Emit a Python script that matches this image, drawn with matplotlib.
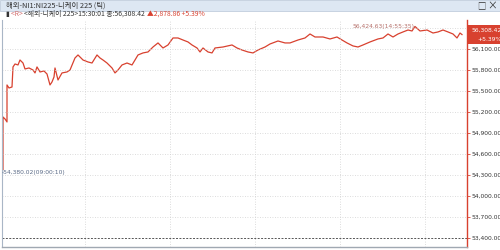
import matplotlib
matplotlib.use("Agg")
import matplotlib.pyplot as plt
from matplotlib import font_manager
from matplotlib.patches import Rectangle

plt.rcParams['font.family'] = ['Noto Sans CJK KR', 'DejaVu Sans']

# * Data (tick position, price)

tick_pos = [3, 3, 5, 7, 7, 9, 12, 13, 15, 18, 20, 23, 25, 29, 33, 35, 37, 40, 44, 47,
            50, 52, 54, 55, 58, 62, 67, 70, 75, 78, 81, 83, 88, 92, 97, 100, 103, 107,
            112, 115, 118, 122, 127, 132, 135, 138, 143, 148, 153, 158, 163, 168, 173,
            178, 183, 188, 192, 197, 200, 203, 208, 212, 215, 223, 232, 237, 242, 248,
            253, 258, 265, 270, 278, 285, 290, 298, 305, 310, 315, 323, 330, 337, 342,
            347, 353, 358, 363, 370, 378, 383, 388, 393, 398, 403, 408, 412, 415, 420,
            427, 433, 438, 443, 448, 453, 457, 460, 462]
price = [54380.02, 55130, 55102, 55059, 55588, 55545, 55559, 55846, 55888, 55874,
         55945, 55902, 55817, 55831, 55802, 55760, 55846, 55774, 55788, 55745,
         55588, 55631, 55702, 55831, 55659, 55760, 55774, 55802, 55974, 56017,
         55974, 55945, 55917, 55902, 56017, 55974, 55945, 55902, 55831, 55760,
         55802, 55874, 55902, 55874, 55945, 56017, 56046, 56060, 56131, 56189,
         56117, 56160, 56260, 56260, 56231, 56203, 56160, 56117, 56060, 56117,
         56060, 56046, 56117, 56131, 56160, 56117, 56088, 56060, 56046, 56088,
         56131, 56174, 56217, 56189, 56189, 56231, 56260, 56317, 56274, 56274,
         56246, 56274, 56231, 56189, 56146, 56131, 56160, 56203, 56246, 56260,
         56317, 56274, 56317, 56346, 56374, 56360, 56424.63, 56360, 56374, 56331,
         56346, 56374, 56346, 56317, 56260, 56331, 56308.42]

y_ticks = [53400, 53700, 54000, 54300, 54600, 54900, 55200, 55500, 55800, 56100, 56400]
x_grid = [85, 170, 255, 340, 425]

title = "해외-NI1:NI225-니케이 225 (틱)"
info_parts = [("▮ ", "#333333"), ("<R> ", "#d36a6a"),
              ("<해외-니케이 225>15:30:01 종:56,308.42 ", "#333333"),
              ("▲2,878.86 +5.39%", "#d8412f")]
last_box = ["56,308.42", "+5.39%"]
max_label = "56,424.63(14:55:35)-"
min_label = "-54,380.02(09:00:10)"

RED = "#d8412f"
GRID = "#d0d0d0"

# Narrow font for the numbers if there is one.
names = {f.name for f in font_manager.fontManager.ttflist}
if "Liberation Sans Narrow" in names:
    NUMFONT, NUMSIZE = "Liberation Sans Narrow", 5.6
else:
    NUMFONT, NUMSIZE = "DejaVu Sans", 4.3

fig = plt.figure(figsize=(5, 2.5), dpi=100)
fig.patch.set_facecolor("white")
renderer = fig.canvas.get_renderer()

# Title bar
fig.patches.append(Rectangle((0, 0.956), 1, 0.044, transform=fig.transFigure,
                             facecolor="#dde7f3", edgecolor="#b8c6d8", lw=0.5))
fig.text(0.012, 0.978, title, fontsize=5.3, color="#333333", va="center")
fig.text(0.962, 0.978, "□", fontsize=6, color="#333333", va="center", ha="center")
fig.text(0.984, 0.978, "×", fontsize=7, color="#333333", va="center", ha="center")

# Info line, pieces placed one after another
x0 = 6
for txt, col in info_parts:
    t = fig.text(x0 / 500, 0.944, txt, fontsize=4.9, color=col, va="center")
    x0 += t.get_window_extent(renderer).width

ax = fig.add_axes([0.004, 0.012, 0.93, 0.908])
ax.plot(tick_pos, price, color=RED, lw=0.9)

ax.set_xlim(2, 467)
ax.set_ylim(53271, 56517)

for xg in x_grid:
    ax.axvline(xg, color=GRID, lw=0.6, ls=(0, (1, 2)))
for yt in y_ticks[1:]:
    ax.axhline(yt, color=GRID, lw=0.6, ls=(0, (1, 2)))
ax.axhline(y_ticks[0], color="#555555", lw=0.7, ls=(0, (2, 1.5)))

ax.set_xticks([])
ax.yaxis.tick_right()
ax.set_yticks(y_ticks)
ax.set_yticklabels(["{:,.2f}".format(v) for v in y_ticks])
ax.tick_params(axis="y", length=2, width=0.6, color=RED, pad=1,
               labelsize=NUMSIZE, labelcolor="#333333")
for lab in ax.get_yticklabels():
    lab.set_family(NUMFONT)

ax.spines["top"].set_visible(False)
ax.spines["right"].set_color(RED)
ax.spines["right"].set_linewidth(1.0)
ax.spines["left"].set_color("#a9b6c6")
ax.spines["bottom"].set_color("#a0a8b2")
ax.spines["bottom"].set_linewidth(1.0)

# Max / min annotations
ax.text(tick_pos[price.index(max(price))] + 2, max(price), max_label, fontsize=NUMSIZE,
        color="#b5706a", ha="right", va="center", family=NUMFONT)
ax.text(tick_pos[0] - 1, price[0] - 45, min_label, fontsize=NUMSIZE,
        color="#5a6a86", ha="left", va="center", family=NUMFONT)

# Last price box, centred on the last price
ax.add_patch(Rectangle((1.002, 0.893), 0.075, 0.085, transform=ax.transAxes,
                       facecolor=RED, edgecolor="none", clip_on=False, zorder=5))
ax.text(1.074, 0.955, last_box[0], transform=ax.transAxes, fontsize=NUMSIZE,
        color="white", va="center", ha="right", family=NUMFONT, zorder=6)
ax.text(1.074, 0.913, last_box[1], transform=ax.transAxes, fontsize=NUMSIZE,
        color="white", va="center", ha="right", family=NUMFONT, zorder=6)

plt.savefig("out.png", dpi=100)
